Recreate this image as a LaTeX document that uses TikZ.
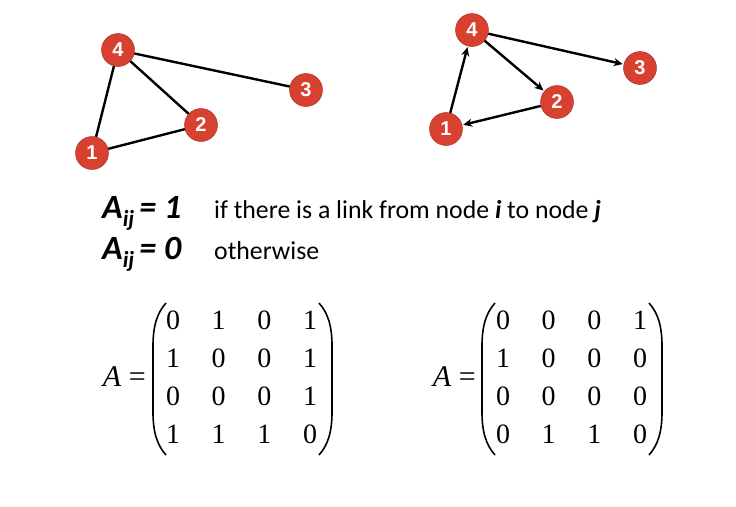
\documentclass[tikz,border=0pt]{standalone}
\usepackage{fontspec}
\setmainfont{Carlito}
\newfontfamily\tms{Liberation Serif}
\newfontfamily\hel{Liberation Sans}
\usetikzlibrary{arrows.meta}
\definecolor{nodered}{HTML}{D8402F}
\tikzset{
  vtx/.style={circle,fill=nodered,draw=nodered!70!black,line width=0.4pt,minimum size=33pt,inner sep=0pt,text=white,font=\hel\bfseries\fontsize{20}{20}\selectfont},
  edge/.style={line width=2.4pt,black},
  dedge/.style={line width=2.4pt,black,-{Stealth[length=9pt,width=8pt]},shorten >=1pt},
  formula/.style={anchor=base west,inner sep=0pt,font=\bfseries\itshape\fontsize{34}{34}\selectfont},
  expl/.style={anchor=base west,inner sep=0pt,font=\fontsize{25.8}{26}\selectfont},
  entry/.style={anchor=base,inner sep=0pt,font=\tms\fontsize{28}{28}\selectfont},
  paren/.style={line width=1.6pt,black},
}
\begin{document}
\begin{tikzpicture}[x=1pt,y=-1pt]
\useasboundingbox (0,0) rectangle (736,506);
\fill[white] (0,0) rectangle (736,506);
% left graph
\node[vtx] (a4) at (118,50) {4};
\node[vtx] (a3) at (306,90) {3};
\node[vtx] (a2) at (201,125) {2};
\node[vtx] (a1) at (92,153) {1};
\draw[edge] (a4) -- (a3);
\draw[edge] (a4) -- (a2);
\draw[edge] (a4) -- (a1);
\draw[edge] (a1) -- (a2);
% right graph
\node[vtx] (b4) at (472,30) {4};
\node[vtx] (b3) at (640,68) {3};
\node[vtx] (b2) at (557,102) {2};
\node[vtx] (b1) at (446,129) {1};
\draw[dedge] (b1) -- (b4);
\draw[dedge] (b4) -- (b2);
\draw[dedge] (b4) -- (b3);
\draw[dedge] (b2) -- (b1);
% definitions
\node[formula] (f1) at (102,218) {A\raisebox{-8pt}{\fontsize{23}{23}\selectfont ij}\hspace{5pt}=\hspace{8pt}1};
\node[expl] (t1) at (214,218) {if there is a link from node \textbf{\textit{i}} to node \textbf{\textit{j}}};
\node[formula] (f0) at (102,259) {A\raisebox{-8pt}{\fontsize{23}{23}\selectfont ij}\hspace{5pt}=\hspace{8pt}0};
\node[expl] (t0) at (214,259) {otherwise};
% left matrix
\node[anchor=base east,inner sep=0pt,font=\tms\fontsize{30}{30}\selectfont] (lA) at (146,386) {\textit{A} =};
\foreach \r/\y/\vals in {1/329/{0,1,0,1},2/367/{1,0,0,1},3/405/{0,0,0,1},4/443/{1,1,1,0}}{
  \foreach \v [count=\c] in \vals {
    \pgfmathsetmacro{\xx}{173+45.7*(\c-1)}
    \node[entry] (L-\r-\c) at (\xx,\y) {\v};
  }
}
\draw[paren] (166,303) .. controls (157,313) and (153,326) .. (153,346) -- (153,412) .. controls (153,432) and (157,445) .. (166,455);
\draw[paren] (319,303) .. controls (328,313) and (332,326) .. (332,346) -- (332,412) .. controls (332,432) and (328,445) .. (319,455);
% right matrix
\node[anchor=base east,inner sep=0pt,font=\tms\fontsize{30}{30}\selectfont] (rA) at (476,386) {\textit{A} =};
\foreach \r/\y/\vals in {1/329/{0,0,0,1},2/367/{1,0,0,0},3/405/{0,0,0,0},4/443/{0,1,1,0}}{
  \foreach \v [count=\c] in \vals {
    \pgfmathsetmacro{\xx}{503+45.7*(\c-1)}
    \node[entry] (R-\r-\c) at (\xx,\y) {\v};
  }
}
\draw[paren] (495,303) .. controls (486,313) and (482,326) .. (482,346) -- (482,412) .. controls (482,432) and (486,445) .. (495,455);
\draw[paren] (649,303) .. controls (658,313) and (662,326) .. (662,346) -- (662,412) .. controls (662,432) and (658,445) .. (649,455);
\end{tikzpicture}
\end{document}
